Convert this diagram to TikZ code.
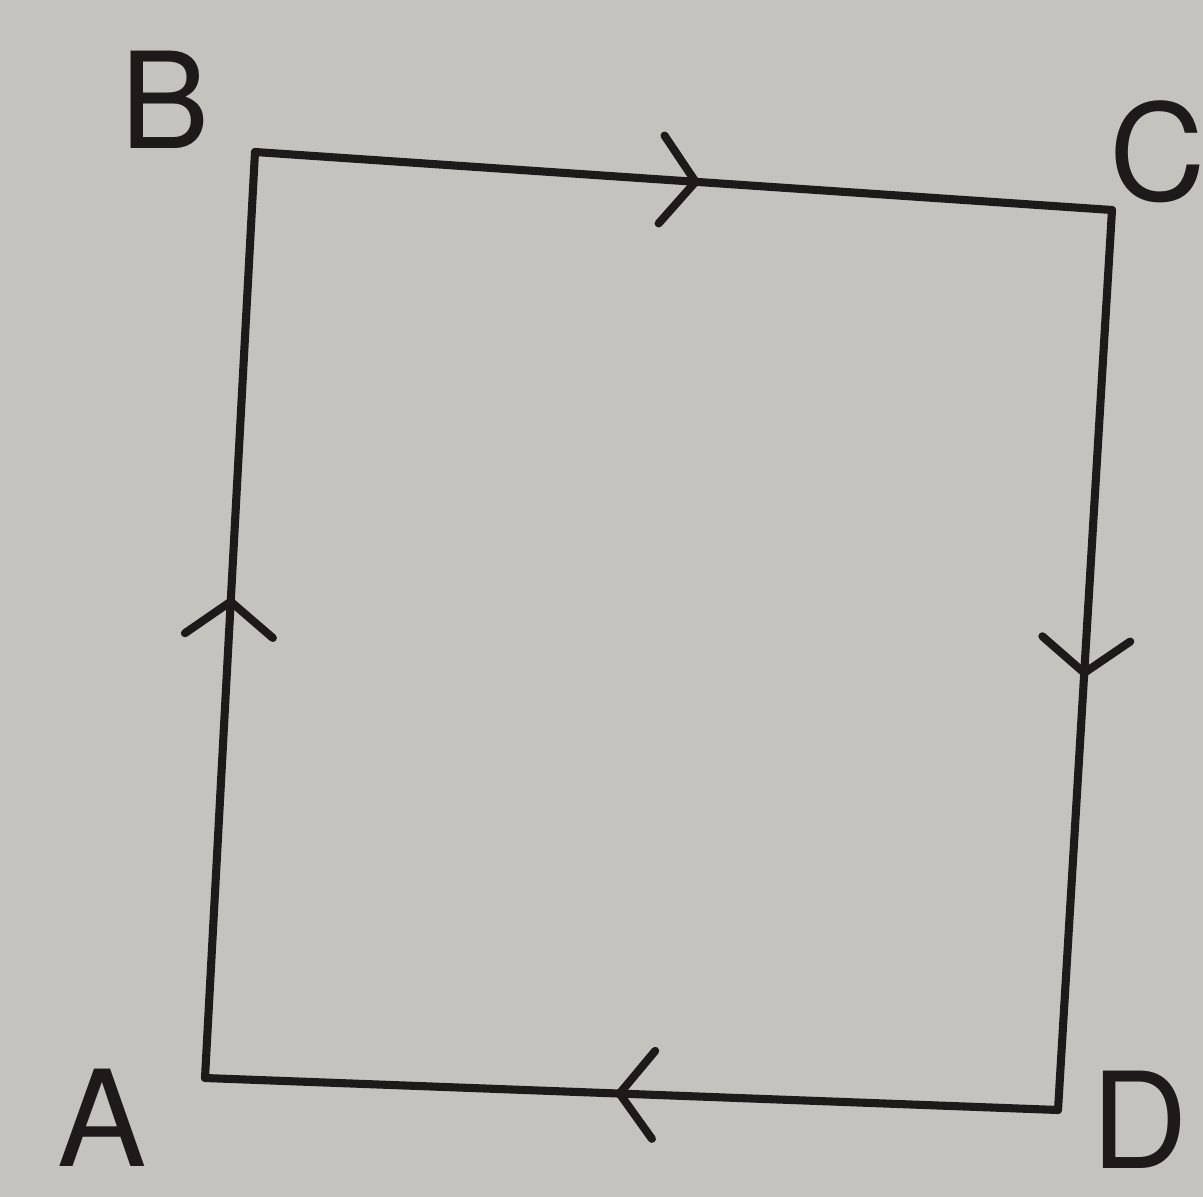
\documentclass[tikz,border=0pt]{standalone}
\usepackage{fontspec}
\setsansfont{TeX Gyre Heros}
\usetikzlibrary{decorations.markings,arrows.meta}
\definecolor{paper}{RGB}{196,195,190}
\definecolor{ink}{RGB}{30,26,26}
\tikzset{
  loopside/.style={
    draw = ink,
    line width = 2.3pt,
    line cap = round,
    postaction = {decorate},
    decoration = {markings,
      mark = at position 0.52 with {\arrow[ink, line width=2.3pt]{Straight Barb[length=0.34cm, width=0.88cm, line cap=round]}}}
  },
  corner/.style={
    font = \sffamily\fontsize{38}{42}\selectfont,
    text = ink,
    inner sep = 0pt
  }
}
\begin{document}
\begin{tikzpicture}[x=0.01cm, y=-0.01cm]
    \fill[paper] (0,0) rectangle (1203,1197);
    \useasboundingbox (0,0) rectangle (1203,1197);
    % corners of the loop
    \coordinate (A) at (205,1078);
    \coordinate (B) at (255,152);
    \coordinate (C) at (1112,210);
    \coordinate (D) at (1058,1110);
    \draw[loopside] (A) -- (B);
    \draw[loopside] (B) -- (C);
    \draw[loopside] (C) -- (D);
    \draw[loopside] (D) -- (A);
    % labels
    \node[corner] (labB) at (165,100) {B};
    \node[corner] (labC) at (1158,152) {C};
    \node[corner] (labA) at (102,1118) {A};
    \node[corner] (labD) at (1140,1120) {D};
\end{tikzpicture}
\end{document}
